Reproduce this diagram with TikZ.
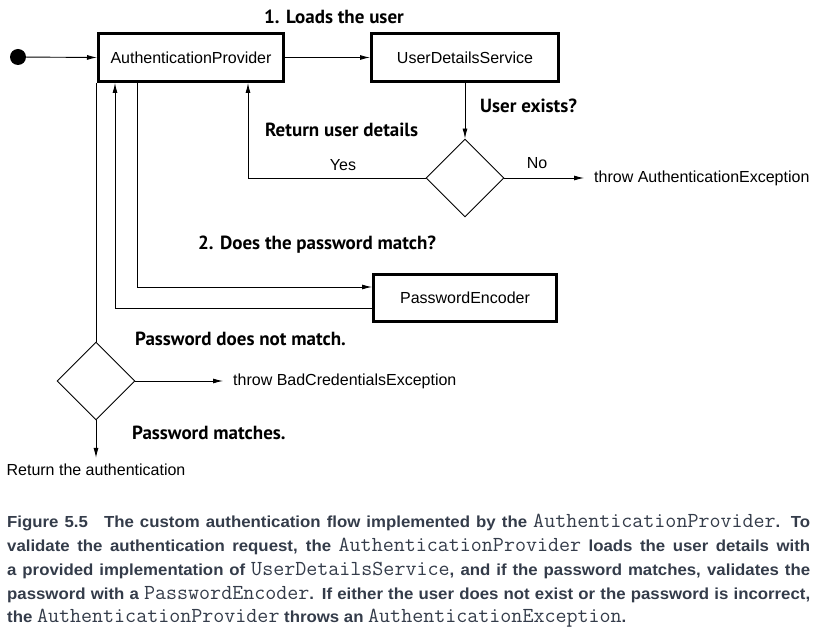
\documentclass[tikz,border=0pt]{standalone}
\usepackage{fontspec}
\setmainfont{Liberation Sans}
\newfontfamily\lblfont{PT Sans}
\newfontfamily\capfont[FakeStretch=1.05]{Liberation Sans Bold}
\usetikzlibrary{arrows.meta,shapes.geometric}
\definecolor{capcol}{RGB}{52,60,74}
\newcommand{\cde}[1]{{\ttfamily\fontsize{21.4}{24}\selectfont #1}}
\begin{document}
\begin{tikzpicture}[x=1pt,y=-1pt,
  box/.style={draw, line width=3pt, inner sep=0pt, font=\fontsize{16}{19}\selectfont},
  dia/.style={draw, diamond, line width=0.9pt, inner sep=0pt, minimum width=78pt, minimum height=78pt},
  conn/.style={line width=0.9pt},
  arr/.style={line width=0.9pt, -{Latex[length=10pt,width=5pt]}},
  lbl/.style={font=\lblfont\bfseries\fontsize{19}{22}\selectfont, inner sep=0pt},
  txt/.style={font=\fontsize{16}{19}\selectfont, inner sep=0pt},
  capline/.style={anchor=base west, inner sep=0pt, text=capcol, font=\capfont\fontsize{16}{24}\selectfont}
]
\useasboundingbox (0,0) rectangle (813,628);
\fill[white] (0,0) rectangle (813,628);

% nodes
\node[circle, fill=black, minimum size=16pt, inner sep=0pt] (start) at (18,57) {};
\node[box, minimum width=185pt, minimum height=48pt] (AP) at (191,57.5) {AuthenticationProvider};
\node[box, minimum width=187pt, minimum height=48pt] (UDS) at (465,57.5) {UserDetailsService};
\node[box, minimum width=183pt, minimum height=47pt] (PE) at (465,298) {PasswordEncoder};
\node[dia] (d1) at (465,178) {};
\node[dia] (d2) at (96,381) {};

\node[txt, anchor=west] (tae) at (594,178) {throw AuthenticationException};
\node[txt, anchor=west] (tbc) at (233,381) {throw BadCredentialsException};
\node[txt] (ret) at (96,470) {Return the authentication};
\node[txt] (yes) at (343,165) {Yes};
\node[txt] (no) at (537,163) {No};

\node[lbl] (l1) at (334,17) {1. Loads the user};
\node[lbl, anchor=west] (l2) at (480,106) {User exists?};
\node[lbl, anchor=west] (l3) at (265,130) {Return user details};
\node[lbl, anchor=west] (l4) at (198,245) {2. Does the password match?};
\node[lbl, anchor=west] (l5) at (135,339) {Password does not match.};
\node[lbl, anchor=west] (l6) at (132,433) {Password matches.};

% connectors
\draw[arr] (start) -- (AP.west);
\draw[arr] (AP.east) -- (UDS.west);
\draw[arr] (UDS.south) -- (d1.north);
\draw[arr] (d1.west) -| ([xshift=57pt]AP.south);
\draw[arr, shorten >=10pt] (d1.east) -- (tae.west);
\draw[conn] (d2.north |- AP.south) -- (d2.north);
\draw[arr] ([yshift=-10pt]PE.west) -| ([xshift=-76pt]AP.south);
\draw[arr] ([xshift=-54pt]AP.south) |- ([yshift=11pt]PE.west);
\draw[arr, shorten >=10pt] (d2.east) -- (tbc.west);
\draw[arr, shorten >=6pt] (d2.south) -- (ret.north);

% caption
\node[capline] (cap1) at (7,527) {\makebox[803pt][s]{Figure 5.5\quad The custom authentication flow implemented by the \cde{AuthenticationProvider}. To}};
\node[capline] (cap2) at (7,551) {\makebox[803pt][s]{validate the authentication request, the \cde{AuthenticationProvider} loads the user details with}};
\node[capline] (cap3) at (7,575) {\makebox[803pt][s]{a provided implementation of \cde{UserDetailsService}, and if the password matches, validates the}};
\node[capline] (cap4) at (7,599) {\makebox[803pt][s]{password with a \cde{PasswordEncoder}. If either the user does not exist or the password is incorrect,}};
\node[capline] (cap5) at (7,622.5) {the \cde{AuthenticationProvider} throws an \cde{AuthenticationException}.};
\end{tikzpicture}
\end{document}
